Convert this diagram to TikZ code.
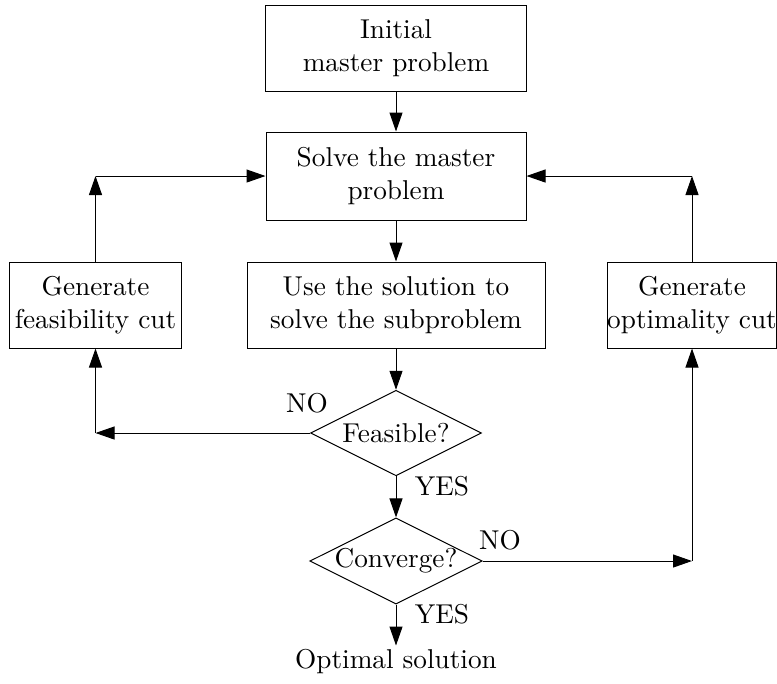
\documentclass[tikz,border=0pt]{standalone}
\usetikzlibrary{shapes.geometric,arrows.meta}
\begin{document}
\begin{tikzpicture}[x=0.4pt,y=-0.4pt,
  every node/.style={font=\fontsize{10.9}{13.2}\selectfont},
  line width=0.4pt,
  procbox/.style={draw, rectangle, align=center, inner sep=0pt, minimum height=34.4pt},
  decision/.style={draw, diamond, shape aspect=2, inner sep=0pt, minimum width=68.4pt, minimum height=34.2pt},
  flow/.style={-{Triangle[length=7.6pt,width=5.2pt]}},
  tag/.style={inner sep=0pt}]
\useasboundingbox (0,0) rectangle (777,683);

% process boxes
\node[procbox, minimum width=104.4pt] (init) at (396,48) {Initial\\master problem};
\node[procbox, minimum width=104pt, minimum height=35.2pt] (solve) at (396,176) {Solve the master\\problem};
\node[procbox, minimum width=119.2pt] (use) at (396,305) {Use the solution to\\solve the subproblem};
\node[procbox, minimum width=68.4pt] (fcut) at (95.5,305) {Generate\\feasibility cut};
\node[procbox, minimum width=67.2pt] (ocut) at (692,305) {Generate\\optimality cut};

% decisions
\node[decision] (feas) at (396,433) {Feasible?};
\node[decision, minimum height=33.6pt] (conv) at (396,561) {Converge?};

% terminal text
\node[inner sep=1.5pt] (opt) at (396,662) {Optimal solution};

% corner points of the feedback loops
\coordinate (fl) at (fcut.south |- feas.west);
\coordinate (ful) at (fcut.north |- solve.west);
\coordinate (cr) at (ocut.south |- conv.east);
\coordinate (cur) at (ocut.north |- solve.east);

% main flow
\draw[flow] (init) -- (solve);
\draw[flow] (solve) -- (use);
\draw[flow] (use) -- (feas);
\draw[flow] (feas) -- (conv);
\draw[flow] (conv) -- (opt);

% infeasible branch
\draw[flow] (feas.west) -- (fl);
\draw[flow] (fl) -- (fcut.south);
\draw[flow] (fcut.north) -- (ful);
\draw[flow] (ful) -- (solve.west);

% not converged branch
\draw[flow] (conv.east) -- (cr);
\draw[flow] (cr) -- (ocut.south);
\draw[flow] (ocut.north) -- (cur);
\draw[flow] (cur) -- (solve.east);

% branch labels
\node[tag] (no1) at (307,403) {NO};
\node[tag] (yes1) at (442,486) {YES};
\node[tag] (no2) at (500,540) {NO};
\node[tag] (yes2) at (442,614) {YES};
\end{tikzpicture}
\end{document}
